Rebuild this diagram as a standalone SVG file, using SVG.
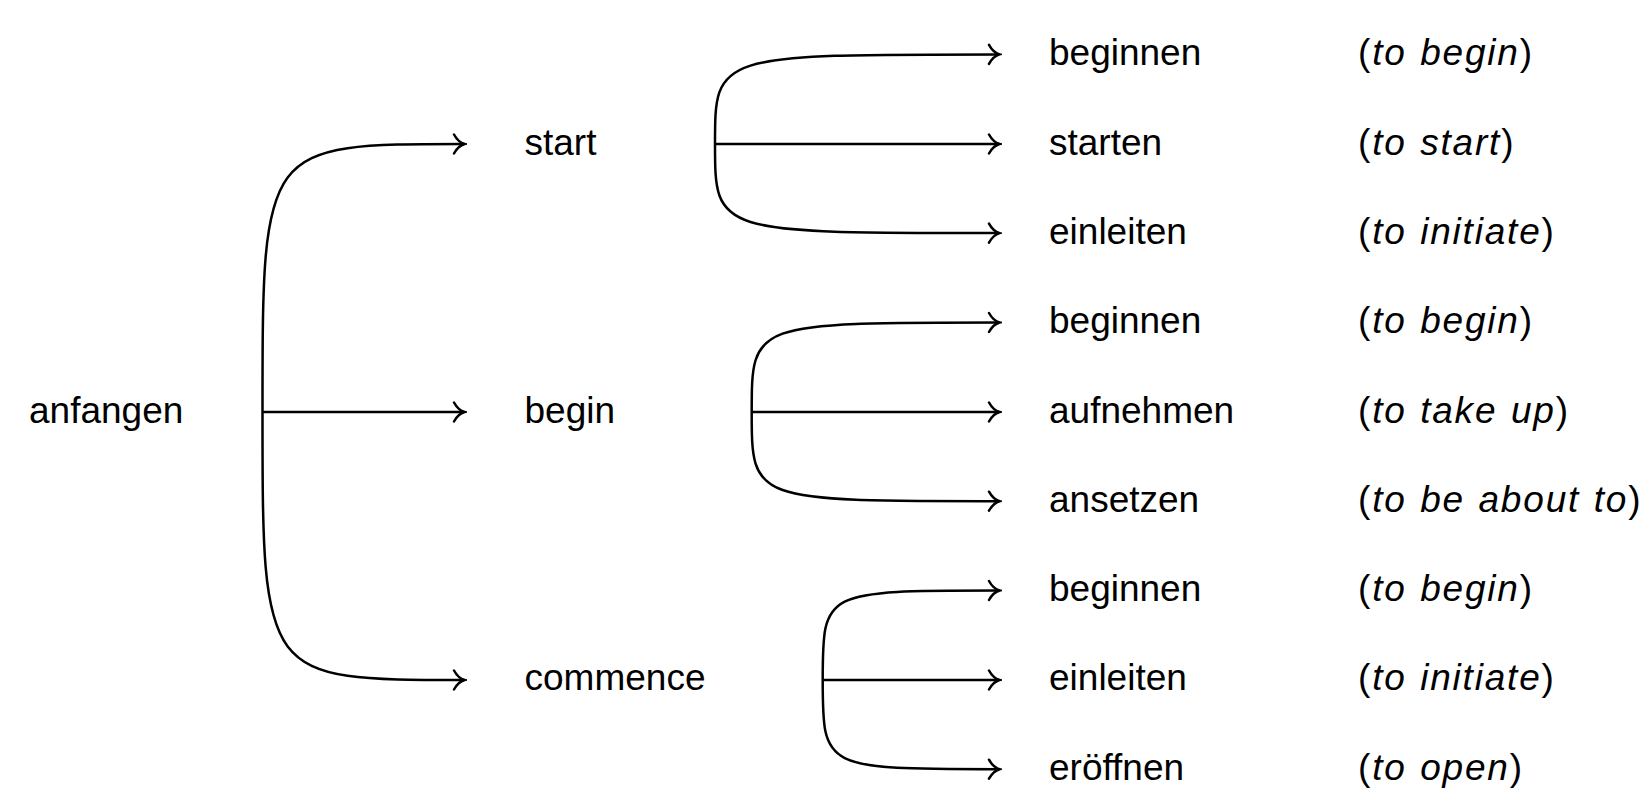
<svg xmlns="http://www.w3.org/2000/svg" width="1651" height="791" viewBox="0 0 1651 791">
<style>
.t{font-family:"Liberation Sans",Arial,sans-serif;font-size:37px;fill:#000}
.g{font-family:"Liberation Sans",Arial,sans-serif;font-size:37px;fill:#000;letter-spacing:1.8px;word-spacing:1.5px}
.i{font-style:italic}
.e{fill:none;stroke:#000;stroke-width:2.5;marker-end:url(#arr)}
</style>
<defs>
<marker id="arr" markerUnits="userSpaceOnUse" viewBox="-13 -12 16 24" markerWidth="16" markerHeight="24" refX="0" refY="0" orient="auto">
<path d="M -10,-9.5 C -7,-4 -3,-1 0.6,0 C -3,1 -7,4 -10,9.5" fill="none" stroke="#000" stroke-width="2.5" stroke-linecap="round"/>
</marker>
</defs>
<rect width="1651" height="791" fill="#fff"/>
<g id="connectors">
<path class="e" d="M262.5,412 C262.5,144 262.5,144 464,144"/>
<path class="e" d="M262.5,412 L464,412"/>
<path class="e" d="M262.5,412 C262.5,680 262.5,680 464,680"/>
<path class="e" d="M715,144 C715,54.4 715,54.4 999,54.4"/>
<path class="e" d="M715,144 L999,144"/>
<path class="e" d="M715,144 C715,233.1 715,233.1 999,233.1"/>
<path class="e" d="M751.7,412 C751.7,322.5 751.7,322.5 999,322.5"/>
<path class="e" d="M751.7,412 L999,412"/>
<path class="e" d="M751.7,412 C751.7,501.2 751.7,501.2 999,501.2"/>
<path class="e" d="M822.7,680 C822.7,590.5 822.7,590.5 999,590.5"/>
<path class="e" d="M822.7,680 L999,680"/>
<path class="e" d="M822.7,680 C822.7,769.2 822.7,769.2 999,769.2"/>
</g>
<g id="n-anfangen"><text class="t" x="29" y="422.5">anfangen</text></g>
<g id="n-start"><text class="t" x="524.5" y="154.5">start</text></g>
<g id="n-begin"><text class="t" x="524.5" y="422.5">begin</text></g>
<g id="n-commence"><text class="t" x="524.5" y="690">commence</text></g>
<g id="n-beginnen1"><text class="t" x="1049" y="65">beginnen</text><text class="g" x="1358" y="65">(<tspan class="i">to begin</tspan>)</text></g>
<g id="n-starten"><text class="t" x="1049" y="154.5">starten</text><text class="g" x="1358" y="154.5">(<tspan class="i">to start</tspan>)</text></g>
<g id="n-einleiten1"><text class="t" x="1049" y="243.5">einleiten</text><text class="g" x="1358" y="243.5">(<tspan class="i">to initiate</tspan>)</text></g>
<g id="n-beginnen2"><text class="t" x="1049" y="333">beginnen</text><text class="g" x="1358" y="333">(<tspan class="i">to begin</tspan>)</text></g>
<g id="n-aufnehmen"><text class="t" x="1049" y="422.5">aufnehmen</text><text class="g" x="1358" y="422.5">(<tspan class="i">to take up</tspan>)</text></g>
<g id="n-ansetzen"><text class="t" x="1049" y="511.5">ansetzen</text><text class="g" x="1358" y="511.5">(<tspan class="i">to be about to</tspan>)</text></g>
<g id="n-beginnen3"><text class="t" x="1049" y="601">beginnen</text><text class="g" x="1358" y="601">(<tspan class="i">to begin</tspan>)</text></g>
<g id="n-einleiten2"><text class="t" x="1049" y="690">einleiten</text><text class="g" x="1358" y="690">(<tspan class="i">to initiate</tspan>)</text></g>
<g id="n-eroeffnen"><text class="t" x="1049" y="779.5">eröffnen</text><text class="g" x="1358" y="779.5">(<tspan class="i">to open</tspan>)</text></g>
</svg>
